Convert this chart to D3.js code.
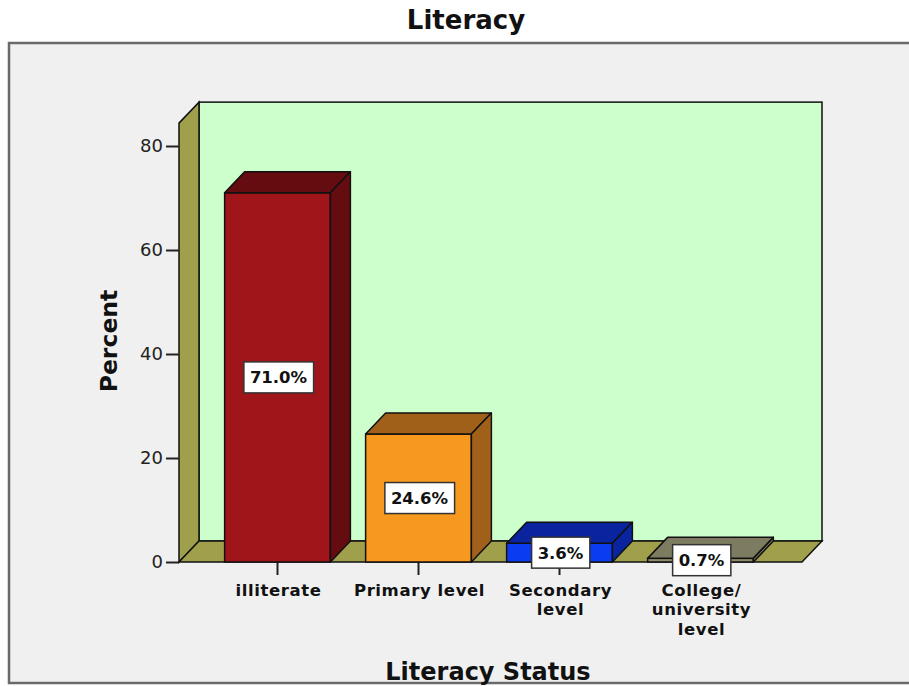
<!DOCTYPE html>
<html>
<head>
<meta charset="utf-8">
<script src="https://cdn.jsdelivr.net/npm/d3@7"></script>
<style>
  body { margin: 0; background: #fff; }
  text { font-family: "DejaVu Sans", Verdana, sans-serif; }
</style>
</head>
<body>
<div id="chart"></div>
<script>
// data
var categories = ["illiterate", "Primary level", "Secondary\nlevel", "College/\nuniversity\nlevel"];
var percents = [71.0, 24.6, 3.6, 0.7];
var yTicks = [0, 20, 40, 60, 80];
var frontColors = ["#a0151a", "#f7991e", "#0a3cf2", "#8c8b6c"];
var darkColors = ["#640c10", "#a0601a", "#0a24a0", "#7e7c60"];

var width = 909, height = 686;
var depthX = 20, depthY = 21;

var svg = d3.select("#chart").append("svg")
  .attr("width", width)
  .attr("height", height);

// outer frame
svg.append("rect")
  .attr("x", 9).attr("y", 43)
  .attr("width", 920).attr("height", 640)
  .attr("fill", "#f0f0f0")
  .attr("stroke", "#6a6a6a").attr("stroke-width", 2.5);

// scales
var x = d3.scaleBand()
  .domain(categories)
  .range([207, 771])
  .paddingInner(0.25)
  .paddingOuter(0.125);

var y = d3.scaleLinear()
  .domain([0, 80])
  .range([562, 146]);

var yTop = y(84.4);
var xLeft = 179, xRight = 802;

// back wall
svg.append("rect")
  .attr("x", xLeft + depthX).attr("y", yTop - depthY)
  .attr("width", xRight - xLeft).attr("height", y(0) - yTop)
  .attr("fill", "#ccffcc")
  .attr("stroke", "#111").attr("stroke-width", 1.5);

// left wall
svg.append("polygon")
  .attr("points", [[xLeft, yTop], [xLeft + depthX, yTop - depthY], [xLeft + depthX, y(0) - depthY], [xLeft, y(0)]].join(" "))
  .attr("fill", "#a09f4c")
  .attr("stroke", "#111").attr("stroke-width", 1.5);

// floor
svg.append("polygon")
  .attr("points", [[xLeft, y(0)], [xLeft + depthX, y(0) - depthY], [xRight + depthX, y(0) - depthY], [xRight, y(0)]].join(" "))
  .attr("fill", "#a09f4c")
  .attr("stroke", "#111").attr("stroke-width", 1.5);

// y axis
var yAxis = svg.append("g")
  .attr("transform", "translate(" + xLeft + ",0)")
  .call(d3.axisLeft(y).tickValues(yTicks).tickSize(13).tickPadding(3));
yAxis.select(".domain").remove();
yAxis.selectAll("line").attr("stroke", "#222").attr("stroke-width", 2);
yAxis.selectAll("text")
  .attr("font-size", "18px")
  .attr("fill", "#222")
  .style("font-family", "'DejaVu Sans', Verdana, sans-serif");

// x axis
var xAxis = svg.append("g")
  .attr("transform", "translate(0," + y(0) + ")")
  .call(d3.axisBottom(x).tickSize(13));
xAxis.select(".domain").remove();
xAxis.selectAll("line").attr("stroke", "#222").attr("stroke-width", 2);
xAxis.selectAll("text").remove();

svg.selectAll(".catlabel")
  .data(categories)
  .enter()
  .append("text")
    .attr("class", "catlabel")
    .attr("text-anchor", "middle")
    .attr("font-size", "16.5px")
    .attr("letter-spacing", "0.6px")
    .attr("font-weight", "bold")
    .attr("fill", "#111")
    .each(function(d) {
      var t = d3.select(this);
      d.split("\n").forEach(function(line, i) {
        t.append("tspan")
          .attr("x", x(d) + x.bandwidth() / 2 + 1)
          .attr("y", 596 + i * 19.3)
          .text(line);
      });
    });

// bars
var bars = svg.selectAll(".bar")
  .data(percents)
  .enter()
  .append("g")
    .attr("class", "bar");

bars.append("rect")
  .attr("x", (d, i) => x(categories[i]))
  .attr("y", d => y(d))
  .attr("width", x.bandwidth())
  .attr("height", d => y(0) - y(d))
  .attr("fill", (d, i) => frontColors[i])
  .attr("stroke", "#111").attr("stroke-width", 1.5);

bars.append("polygon")
  .attr("points", function(d, i) {
    var x0 = x(categories[i]), x1 = x0 + x.bandwidth(), yy = y(d);
    return [[x0, yy], [x0 + depthX, yy - depthY], [x1 + depthX, yy - depthY], [x1, yy]].join(" ");
  })
  .attr("fill", (d, i) => darkColors[i])
  .attr("stroke", "#111").attr("stroke-width", 1.5).attr("stroke-linejoin", "round");

bars.append("polygon")
  .attr("points", function(d, i) {
    var x1 = x(categories[i]) + x.bandwidth(), yy = y(d);
    return [[x1, yy], [x1 + depthX, yy - depthY], [x1 + depthX, y(0) - depthY], [x1, y(0)]].join(" ");
  })
  .attr("fill", (d, i) => darkColors[i])
  .attr("stroke", "#111").attr("stroke-width", 1.5).attr("stroke-linejoin", "round");

// value labels
var labels = svg.selectAll(".vlabel")
  .data(percents)
  .enter()
  .append("g")
    .attr("class", "vlabel")
    .attr("transform", (d, i) => "translate(" + (x(categories[i]) + x.bandwidth() / 2 + 1) + "," + ((y(d) + y(0)) / 2) + ")");

labels.append("text")
  .attr("text-anchor", "middle")
  .attr("dy", "0.36em")
  .attr("font-size", "16.5px")
  .attr("font-weight", "bold")
  .attr("fill", "#111")
  .text(d => d.toFixed(1) + "%");

labels.each(function() {
  var g = d3.select(this);
  var b = g.select("text").node().getBBox();
  g.insert("rect", "text")
    .attr("x", b.x - 6).attr("y", -15.5)
    .attr("width", b.width + 12).attr("height", 31)
    .attr("fill", "#fff")
    .attr("stroke", "#333").attr("stroke-width", 1.5);
});

// titles
svg.append("text")
  .attr("x", 466).attr("y", 29)
  .attr("text-anchor", "middle")
  .attr("font-size", "26px")
  .attr("font-weight", "bold")
  .attr("fill", "#111")
  .text("Literacy");

svg.append("text")
  .attr("transform", "translate(117,341) rotate(-90)")
  .attr("text-anchor", "middle")
  .attr("font-size", "23.5px")
  .attr("font-weight", "bold")
  .attr("fill", "#111")
  .text("Percent");

svg.append("text")
  .attr("x", 488).attr("y", 680)
  .attr("text-anchor", "middle")
  .attr("font-size", "24px")
  .attr("font-weight", "bold")
  .attr("fill", "#111")
  .text("Literacy Status");
</script>
</body>
</html>
